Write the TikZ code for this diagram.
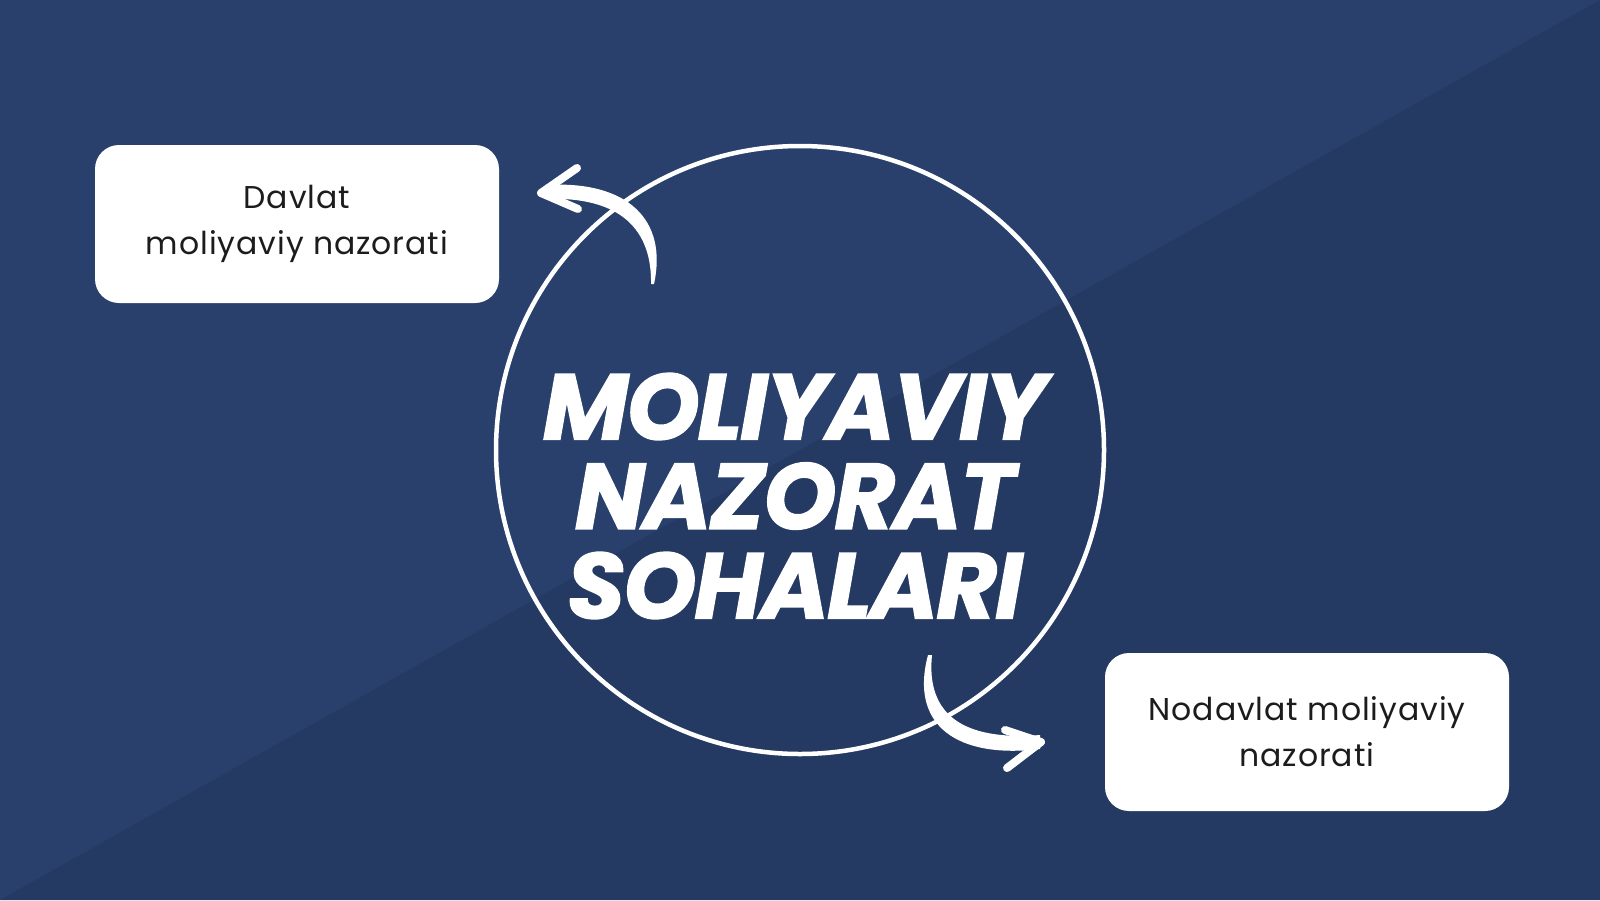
\documentclass[tikz,border=0pt]{standalone}
\usepackage{fontspec}
\newfontfamily\titlefont{Poppins}[BoldItalicFeatures={FakeBold=1.6}, LetterSpace=-2]
\newfontfamily\boxfont{Poppins}[LetterSpace=3]
\definecolor{bgA}{HTML}{28406B}
\definecolor{bgB}{HTML}{243A63}
\definecolor{boxtext}{HTML}{1C1C1C}
\tikzset{
  infobox/.style={fill=white, rounded corners=24pt, minimum width=404pt, minimum height=158pt,
    align=center, inner sep=0pt, text=boxtext, font=\boxfont\fontsize{31.5}{46}\selectfont},
  ringstyle/.style={circle, draw=white, line width=4.5pt, minimum size=608pt, inner sep=0pt},
  headstyle/.style={draw=white, line width=8pt, line cap=round, line join=round},
  titlestyle/.style={align=center, inner sep=0pt, text=white,
    font=\titlefont\bfseries\itshape\fontsize{93}{89.5}\selectfont}
}
\begin{document}
\begin{tikzpicture}[x=1pt,y=-1pt]
\fill[bgA] (0,0) rectangle (1600,900);
\fill[bgB] (1600,0) -- (1600,900) -- (0,900) -- cycle;
\useasboundingbox (0,0) rectangle (1600,900);

\node[ringstyle] (ring) at (800,450) {};
\node[titlestyle] (title) at (795,496) {MOLIYAVIY\\NAZORAT\\SOHALARI};

\node[infobox] (davlat) at (297,224) {Davlat\\moliyaviy nazorati};
\node[infobox] (nodavlat) at (1307,732) {Nodavlat moliyaviy\\nazorati};

% top arrow (ring -> davlat)
\coordinate (t1) at (541,193);
\fill[white] (654,284) .. controls (668,220) and (628,180) .. (545,185)
  -- (545,199) .. controls (621,196) and (652,230) .. (651,284) -- cycle;
\draw[headstyle] (577,168) -- (t1) -- (578,209);

% bottom arrow (ring -> nodavlat)
\coordinate (b1) at (1041,742);
\fill[white] (928,655) .. controls (909,726) and (958,759) .. (1040,749)
  -- (1040,735) .. controls (962,741) and (926,714) .. (932,655) -- cycle;
\draw[headstyle] (1005,730) -- (b1) -- (1007,768);
\end{tikzpicture}
\end{document}
